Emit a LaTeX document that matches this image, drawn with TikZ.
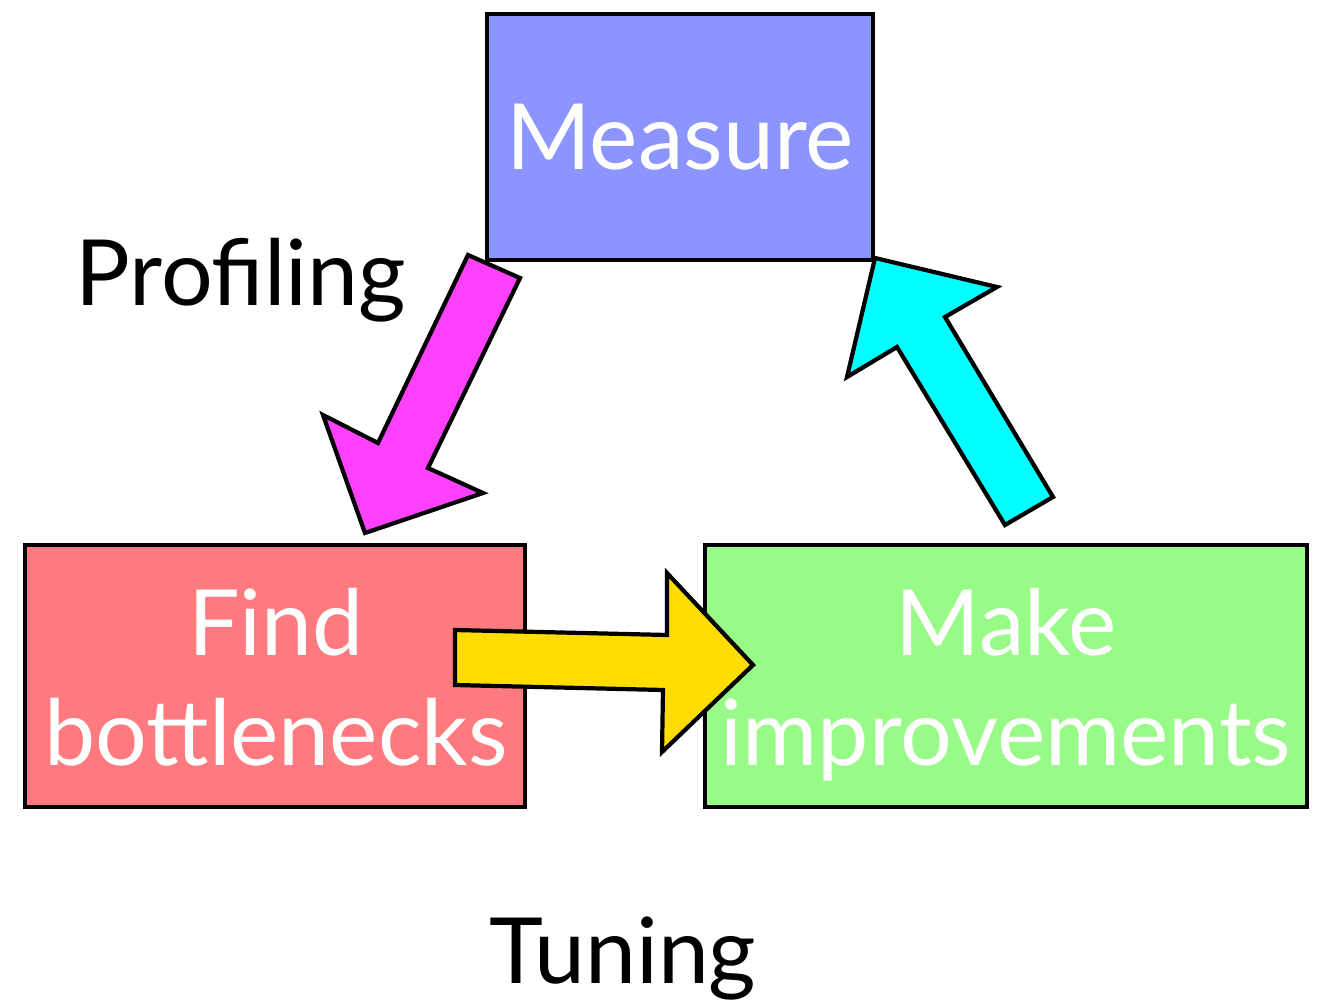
\documentclass[tikz,border=0pt]{standalone}
\usepackage{fontspec}
\setmainfont{Lato}
\usepackage{xcolor}
\usepackage{tikz}
\usetikzlibrary{positioning}
\definecolor{measblue}{HTML}{8C94FF}
\definecolor{findred}{HTML}{FF7A7E}
\definecolor{makegreen}{HTML}{98FA87}
\definecolor{arrmag}{HTML}{FF40FF}
\definecolor{arryel}{HTML}{FFDD00}
\definecolor{arrcyan}{HTML}{00FFFF}

\begin{document}
\begin{tikzpicture}[
    x=0.02cm,y=-0.02cm,
    every node/.style={font=\fontsize{52}{62}\selectfont,align=center,inner sep=0pt},
    box/.style={rectangle,draw=black,line width=1.8pt,text=white},
    blockarr/.style={draw=black,line width=2.4pt,line join=miter}
  ]
    \useasboundingbox (0,0) rectangle (1320,1004);
    \node[box,fill=measblue,minimum width=7.72cm,minimum height=4.92cm] (measure) at (680,137) {Measure};
    \node[box,fill=findred,minimum width=10cm,minimum height=5.24cm] (find) at (275,676) {};
    \node[box,fill=makegreen,minimum width=12.04cm,minimum height=5.24cm] (make) at (1006,676) {};
    \node[anchor=base,text=white] (findtop) at (276,655) {Find};
    \node[anchor=base,text=white] (findbot) at (276,765) {bottlenecks};
    \node[anchor=base,text=white] (maketop) at (1006,655) {Make};
    \node[anchor=base,text=white] (makebot) at (1006,765) {improvements};
    \node[anchor=base] (profiling) at (241,305) {Profiling};
    \node[anchor=base] (tuning) at (623,983) {Tuning};
    % block arrows
    \filldraw[blockarr,fill=arrmag] (468,255) -- (520,278) -- (428,468) -- (483,493)
      -- (365,533) -- (323,415) -- (378,443) -- cycle;
    \filldraw[blockarr,fill=arryel] (455,630) -- (667,635) -- (667,573) -- (753,665)
      -- (662,752) -- (663,690) -- (455,685) -- cycle;
    \filldraw[blockarr,fill=arrcyan] (875,258) -- (997,287) -- (945,317) -- (1053,497)
      -- (1005,525) -- (897,347) -- (847,377) -- cycle;
  \end{tikzpicture}
\end{document}
